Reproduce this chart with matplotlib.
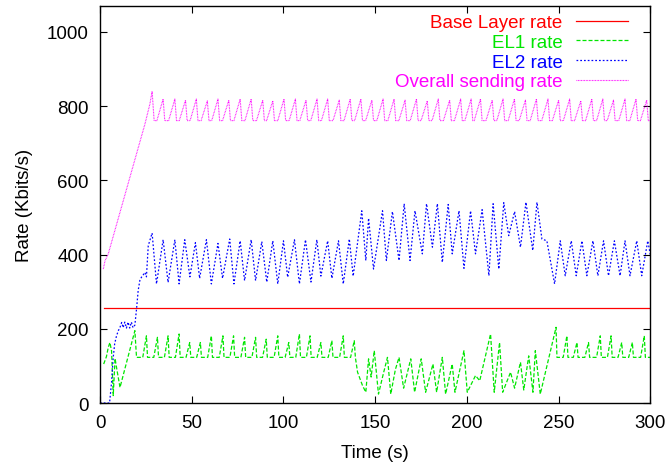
import matplotlib
matplotlib.use("Agg")
import matplotlib.pyplot as plt

plt.rcParams['font.family'] = ['Liberation Sans', 'DejaVu Sans']
plt.rcParams['font.size'] = 13.5

# Base layer rate (constant)
base_t = [2, 300]
base_v = [256, 256]

# EL1 rate: early part, then peaks of the saw-tooth, chaotic middle part
el1_start_t = [2.0, 3.5, 4.5, 5.4, 6.3, 7.2, 8.2, 9.2, 10.9, 19.0, 19.9]
el1_start_v = [105, 125, 150, 163, 140, 20, 120, 90, 42, 195, 123]
el1_peak1_t = [25.3, 31.3, 37.1, 43.1, 48.9, 54.7, 60.7, 67.0, 72.8, 78.8,
               84.8, 90.6, 96.9, 102.9, 108.7, 114.5, 120.4, 126.4, 132.6, 138.6]
el1_peak1_v = [181, 177, 181, 186, 163, 163, 181, 181, 181, 177,
               177, 172, 181, 163, 186, 181, 163, 168, 181, 168]
el1_mid_t = [140.4, 143.1, 144.9, 146.4, 147.8, 149.5, 151.8, 154.5, 156.7, 158.5,
             161.0, 163.0, 165.5, 169.4, 171.5, 175.1, 177.5, 181.5, 183.5, 186.6,
             188.4, 192.0, 193.5, 198.4, 200.2, 204.7, 207.0, 212.9, 214.9, 217.8,
             219.5, 223.8, 226.0, 229.2, 231.0, 233.7, 236.0, 237.3, 240.0, 243.7,
             248.6, 249.1]
el1_mid_v = [83, 47, 29, 119, 70, 141, 24, 80, 123, 24,
             90, 123, 40, 119, 29, 119, 29, 105, 29, 123,
             24, 105, 29, 141, 29, 74, 60, 186, 29, 163,
             29, 83, 40, 110, 35, 127, 29, 141, 24, 101,
             204, 123]
el1_peak2_t = [254.5, 260.0, 266.3, 272.7, 278.6, 284.4, 290.2, 296.7]
el1_peak2_v = [181, 163, 163, 181, 181, 163, 163, 181]
el1_trough = 123

# EL2 rate (vertices)
el2_t = [0, 5.2, 6.3, 7.2, 8.0, 9.0, 10.0, 10.9, 11.8, 12.6, 13.5, 14.4, 15.3,
         16.2, 17.1, 18.0, 19.0, 19.9, 20.8, 21.7, 22.6, 23.5, 24.5, 25.3, 26.3,
         28.4, 30.8, 34.4, 37.1, 40.8, 43.1, 46.2, 49.0, 52.0, 54.3, 58.0, 60.7,
         64.3, 66.8, 70.7, 73.0, 76.4, 78.8, 82.4, 84.8, 88.2, 90.9, 94.2, 96.9,
         100.0, 102.3, 106.0, 108.7, 112.0, 115.0, 118.2, 120.4, 124.1, 126.4,
         130.0, 132.6, 135.9, 138.0, 142.7, 144.9, 146.4, 149.1, 154.0, 156.1,
         159.4, 163.0, 165.8, 169.0, 171.7, 175.7, 178.0, 181.2, 183.9, 186.6,
         189.8, 192.0, 195.7, 198.4, 202.0, 204.7, 208.3, 212.0, 214.3, 217.4,
         220.1, 222.8, 226.0, 229.2, 232.2, 235.9, 238.2, 240.9, 243.6, 247.8,
         250.9, 253.6, 256.9, 259.6, 262.7, 265.4, 268.7, 271.4, 274.5, 277.2,
         280.4, 283.5, 286.2, 288.9, 292.6, 295.3, 298.6, 300.0]
el2_v = [0, 0, 56, 123, 160, 181, 195, 204, 217, 203, 218, 202, 218,
         202, 218, 203, 210, 253, 303, 330, 339, 345, 352, 340, 424,
         458, 321, 440, 325, 440, 321, 440, 340, 432, 336, 440, 321,
         430, 336, 442, 321, 437, 330, 440, 330, 435, 326, 437, 321,
         437, 339, 440, 321, 440, 326, 440, 342, 437, 336,
         437, 321, 442, 342, 518, 384, 498, 361, 518, 384,
         516, 384, 537, 384, 518, 402, 537, 420, 537, 379,
         535, 402, 518, 363, 518, 402, 521, 343, 537, 361,
         540, 451, 516, 420, 541, 411, 541, 442, 437, 321,
         437, 343, 437, 343, 437, 343, 437, 343, 437, 343,
         437, 343, 437, 343, 437, 343, 437, 400]

# Overall sending rate: ramp, then saw-tooth peaks
all_start_t = [1.8, 2.7, 4.5, 24.5, 27.2, 28.4]
all_start_v = [361, 383, 402, 752, 806, 840]
all_peak_t = [34.4, 40.8, 46.6, 52.5, 58.5, 64.3, 70.2, 76.4, 82.4, 88.7,
              94.2, 100.3, 106.5, 112.3, 118.3, 124.1, 130.4, 136.4, 142.2, 148.2,
              154.3, 160.3, 166.3, 172.5, 178.4, 184.4, 190.6, 196.6, 202.3, 207.4,
              213.8, 219.7, 225.9, 231.9, 237.9, 244.2, 250.0, 256.0, 262.1, 268.1,
              274.1, 279.9, 286.2, 292.2, 298.0]
all_peak_v = [819, 819, 816, 819, 814, 819, 816, 819, 819, 816,
              814, 819, 819, 816, 819, 819, 816, 819, 819, 816,
              819, 819, 816, 819, 814, 819, 816, 819, 819, 819,
              816, 819, 819, 816, 819, 819, 816, 819, 814, 819,
              819, 816, 819, 819, 816]
all_trough = 761


def sawtooth(peak_t, peak_v, trough, drop, rise):
    # peak -> quick drop -> flat trough -> rise to the next peak
    ts, vs = [], []
    for i, (t, v) in enumerate(zip(peak_t, peak_v)):
        if i > 0:
            ts.append(t - rise)
            vs.append(trough)
        ts += [t, t + drop]
        vs += [v, trough]
    return ts, vs


p_t, p_v = sawtooth(all_peak_t, all_peak_v, all_trough, 0.9, 3.4)
overall_t = all_start_t + [29.5, 31.0] + p_t + [300.0]
overall_v = all_start_v + [all_trough, all_trough] + p_v + [all_trough]

g1_t, g1_v = sawtooth(el1_peak1_t, el1_peak1_v, el1_trough, 0.6, 2.0)
g2_t, g2_v = sawtooth(el1_peak2_t, el1_peak2_v, el1_trough, 0.6, 2.0)
el1_t = el1_start_t + [23.3] + g1_t + el1_mid_t + [252.5] + g2_t + [300.0]
el1_v = el1_start_v + [el1_trough] + g1_v + el1_mid_v + [el1_trough] + g2_v + [el1_trough]

fig = plt.figure(figsize=(6.69, 4.64), dpi=100)
ax = fig.add_axes([0.1495, 0.1293, 0.8226, 0.8557])

ax.plot(base_t, base_v, color='#ff0000', lw=0.9, label='Base Layer rate')
ax.plot(el1_t, el1_v, color='#00e600', lw=0.9, linestyle=(0, (3.2, 1.6)),
        label='EL1 rate')
ax.plot(el2_t, el2_v, color='#0000ff', lw=0.9, linestyle=(0, (1.4, 1.6)),
        label='EL2 rate')
ax.plot(overall_t, overall_v, color='#ff00ff', lw=0.8, linestyle=(0, (0.7, 0.7)),
        label='Overall sending rate')

ax.set_xlim(0, 300)
ax.set_ylim(0, 1070)
ax.set_xticks([0, 50, 100, 150, 200, 250, 300])
ax.set_yticks([0, 200, 400, 600, 800, 1000])
ax.tick_params(direction='in', length=5, width=0.8, top=True, right=True,
               labelsize=13.5)
ax.tick_params(axis='y', pad=8)
ax.tick_params(axis='x', pad=8)
for s in ax.spines.values():
    s.set_linewidth(1.0)

ax.set_xlabel('Time (s)', fontsize=13.5, labelpad=9)
ax.set_ylabel('Rate (Kbits/s)', fontsize=13.5, labelpad=10)

leg = ax.legend(loc='upper right', bbox_to_anchor=(0.939, 0.967),
                bbox_transform=fig.transFigure, frameon=False,
                markerfirst=False, handlelength=2.8, handletextpad=0.7,
                labelspacing=0.13, borderpad=0, borderaxespad=0,
                fontsize=13.5)
for txt, line in zip(leg.get_texts(), leg.get_lines()):
    txt.set_color(line.get_color())
    txt.set_horizontalalignment('right')
leg._legend_box.align = 'right'

fig.savefig('out.png', dpi=100)
